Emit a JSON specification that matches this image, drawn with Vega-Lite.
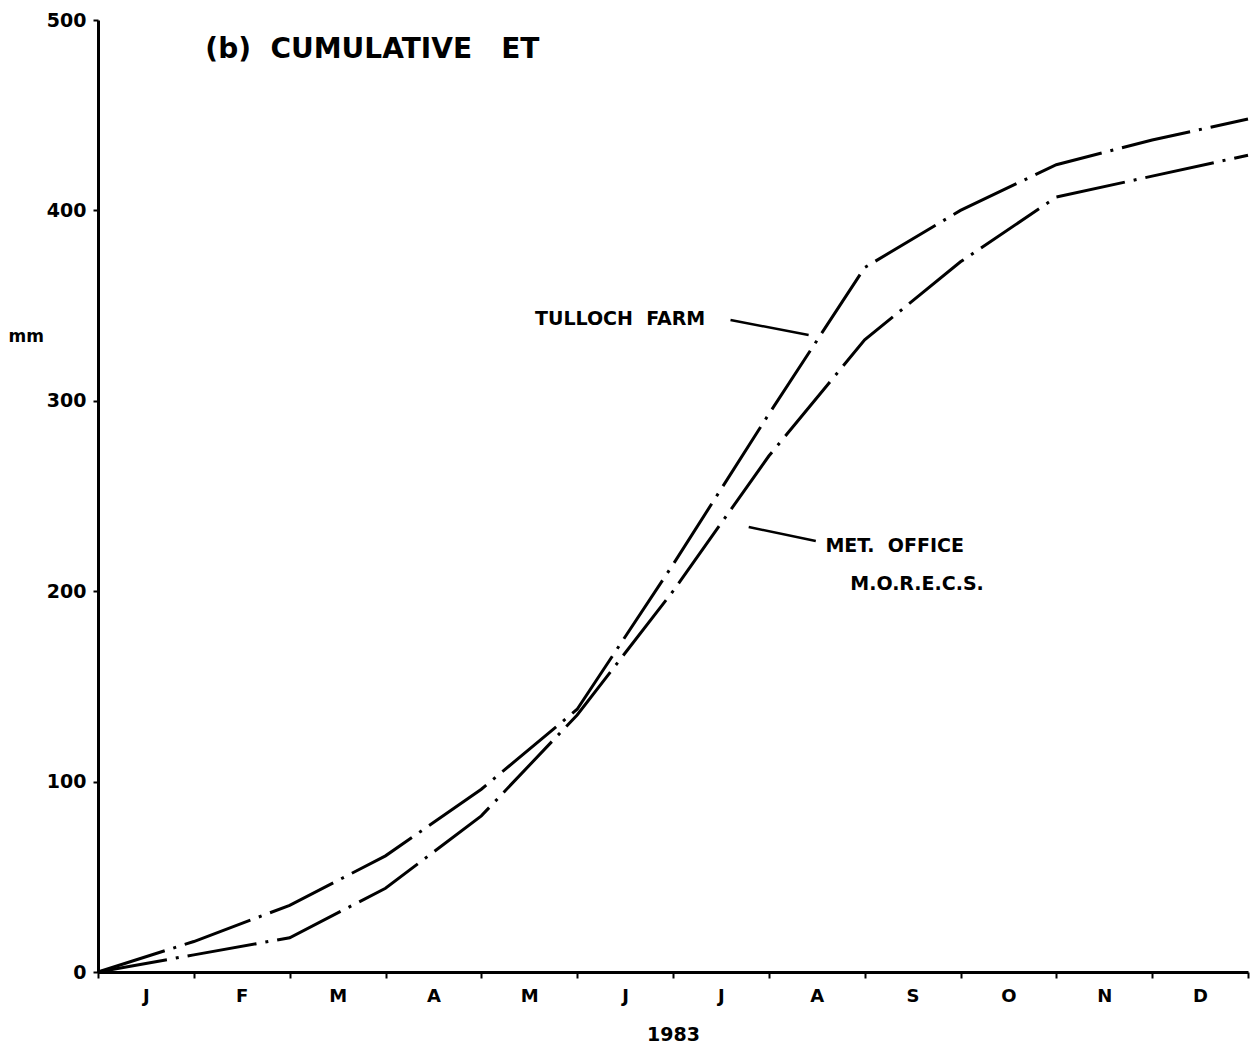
{
  "$schema": "https://vega.github.io/schema/vega-lite/v6.json",
  "width": 1150,
  "height": 952,
  "autosize": {"type": "none"},
  "padding": {"left": 98, "top": 20, "right": 2, "bottom": 79},
  "background": "white",
  "config": {
    "view": {"stroke": null},
    "font": "DejaVu Sans",
    "axis": {"grid": false, "domainColor": "black", "tickColor": "black", "labelColor": "black", "titleColor": "black"}
  },
  "datasets": {
    "et": [
      {"series": "Tulloch Farm", "month": 0, "et": 0},
      {"series": "Tulloch Farm", "month": 1, "et": 16},
      {"series": "Tulloch Farm", "month": 2, "et": 35},
      {"series": "Tulloch Farm", "month": 3, "et": 61},
      {"series": "Tulloch Farm", "month": 4, "et": 96},
      {"series": "Tulloch Farm", "month": 5, "et": 138},
      {"series": "Tulloch Farm", "month": 6, "et": 214},
      {"series": "Tulloch Farm", "month": 7, "et": 293},
      {"series": "Tulloch Farm", "month": 8, "et": 370},
      {"series": "Tulloch Farm", "month": 9, "et": 400},
      {"series": "Tulloch Farm", "month": 10, "et": 424},
      {"series": "Tulloch Farm", "month": 11, "et": 437},
      {"series": "Tulloch Farm", "month": 12, "et": 448},
      {"series": "MORECS", "month": 0, "et": 0},
      {"series": "MORECS", "month": 1, "et": 9},
      {"series": "MORECS", "month": 2, "et": 18},
      {"series": "MORECS", "month": 3, "et": 44},
      {"series": "MORECS", "month": 4, "et": 82},
      {"series": "MORECS", "month": 5, "et": 135},
      {"series": "MORECS", "month": 6, "et": 200},
      {"series": "MORECS", "month": 7, "et": 271},
      {"series": "MORECS", "month": 8, "et": 332},
      {"series": "MORECS", "month": 9, "et": 373},
      {"series": "MORECS", "month": 10, "et": 407},
      {"series": "MORECS", "month": 11, "et": 418},
      {"series": "MORECS", "month": 12, "et": 429}
    ],
    "notes": [
      {"month": 4.56, "et": 343, "text": "TULLOCH\u00a0\u00a0FARM"},
      {"month": 7.59, "et": 224, "text": "MET.\u00a0\u00a0OFFICE"},
      {"month": 7.85, "et": 204, "text": "M.O.R.E.C.S."}
    ],
    "leaders": [
      {"month": 6.60, "et": 342.4, "month2": 7.415, "et2": 334.6},
      {"month": 6.79, "et": 233.7, "month2": 7.49, "et2": 226.4}
    ],
    "heading": [
      {"month": 1.12, "et": 484, "text": "(b)\u00a0\u00a0CUMULATIVE\u00a0\u00a0\u00a0ET"}
    ]
  },
  "layer": [
    {
      "data": {"name": "et"},
      "mark": {"type": "line", "color": "black", "strokeWidth": 3, "strokeDash": [70, 9, 3, 9]},
      "encoding": {
        "x": {
          "field": "month",
          "type": "quantitative",
          "scale": {"domain": [0, 12], "nice": false, "zero": false},
          "axis": {
            "title": "1983",
            "titleFontSize": 19,
            "titleFontWeight": "bold",
            "titlePadding": 20,
            "values": [0, 0.5, 1, 1.5, 2, 2.5, 3, 3.5, 4, 4.5, 5, 5.5, 6, 6.5, 7, 7.5, 8, 8.5, 9, 9.5, 10, 10.5, 11, 11.5, 12],
            "labelExpr": "datum.value % 1 == 0.5 ? ['J','F','M','A','M','J','J','A','S','O','N','D'][floor(datum.value)] : ''",
            "tickOpacity": {"condition": {"test": "datum.value % 1 != 0", "value": 0}, "value": 1},
            "labelOverlap": false,
            "labelFlush": false,
            "labelBound": false,
            "labelFontSize": 18,
            "labelFontWeight": "bold",
            "labelPadding": 9,
            "tickSize": 6,
            "tickWidth": 2,
            "domainWidth": 3
          }
        },
        "y": {
          "field": "et",
          "type": "quantitative",
          "scale": {"domain": [0, 500], "nice": false},
          "axis": {
            "title": "mm",
            "titleAngle": 0,
            "titleAlign": "left",
            "titleBaseline": "middle",
            "titleX": -90,
            "titleY": 316,
            "titleFontSize": 17,
            "titleFontWeight": "bold",
            "values": [0, 100, 200, 300, 400, 500],
            "labelFontSize": 19,
            "labelFontWeight": "bold",
            "labelPadding": 7,
            "tickSize": 5,
            "tickWidth": 2,
            "domainWidth": 3
          }
        },
        "detail": {"field": "series"}
      }
    },
    {
      "data": {"name": "leaders"},
      "mark": {"type": "rule", "color": "black", "strokeWidth": 2.5},
      "encoding": {
        "x": {"field": "month", "type": "quantitative"},
        "y": {"field": "et", "type": "quantitative"},
        "x2": {"field": "month2"},
        "y2": {"field": "et2"}
      }
    },
    {
      "data": {"name": "notes"},
      "mark": {"type": "text", "align": "left", "baseline": "middle", "fontSize": 19, "fontWeight": "bold", "color": "black"},
      "encoding": {
        "x": {"field": "month", "type": "quantitative"},
        "y": {"field": "et", "type": "quantitative"},
        "text": {"field": "text"}
      }
    },
    {
      "data": {"name": "heading"},
      "mark": {"type": "text", "align": "left", "baseline": "middle", "fontSize": 28, "fontWeight": "bold", "color": "black"},
      "encoding": {
        "x": {"field": "month", "type": "quantitative"},
        "y": {"field": "et", "type": "quantitative"},
        "text": {"field": "text"}
      }
    }
  ]
}
